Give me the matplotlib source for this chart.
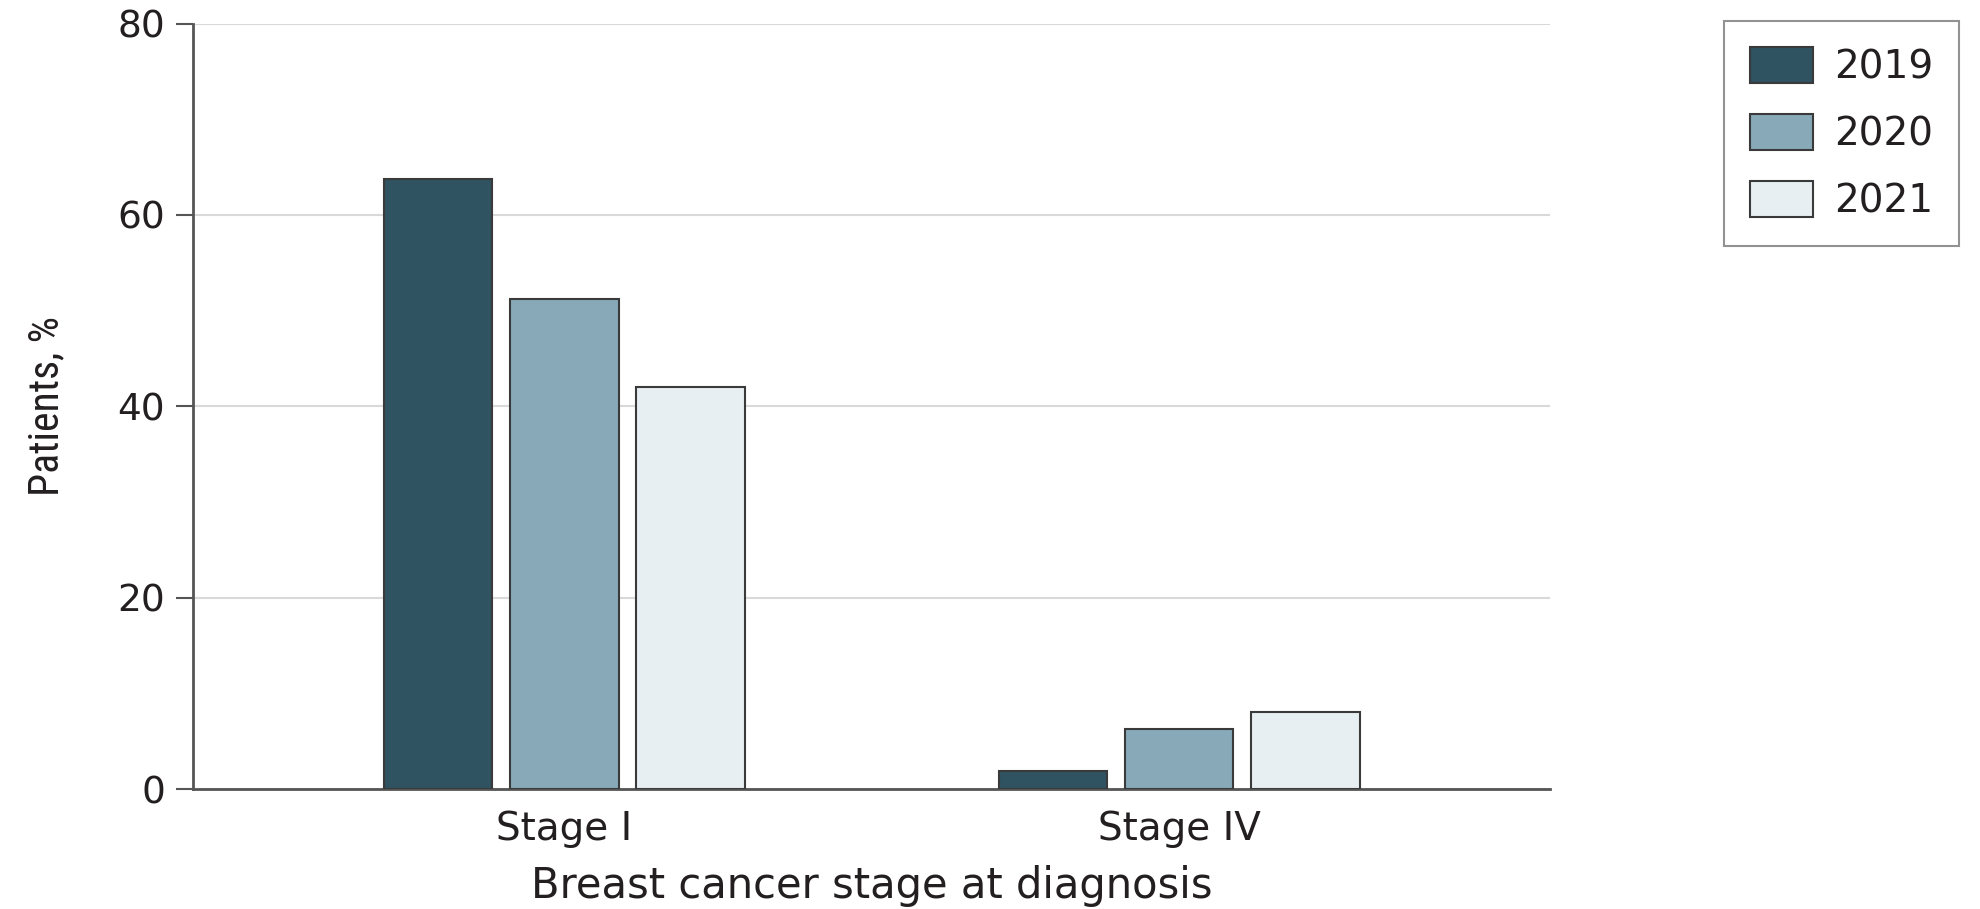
import numpy as np
import matplotlib
matplotlib.use("Agg")
import matplotlib.pyplot as plt
from matplotlib.patches import Patch
from matplotlib import font_manager

# ===== Data =====
stages = ["Stage I", "Stage IV"]
years = ["2019", "2020", "2021"]
pct_2019 = [63.8, 1.9]
pct_2020 = [51.2, 6.3]
pct_2021 = [42.0, 8.1]
y_ticks = [0, 20, 40, 60, 80]

# ===== Style =====
colors = ["#2F5361", "#87A9B8", "#E8EFF2"]
edge = "#3a3a3a"
text_col = "#231f20"
plt.rcParams["font.family"] = ["DejaVu Sans"]

# condensed font for the y label if one is installed
names = {f.name for f in font_manager.fontManager.ttflist}
narrow = None
for cand in ["Roboto Condensed", "Liberation Sans Narrow", "Open Sans Condensed"]:
    if cand in names:
        narrow = cand
        break

fig = plt.figure(figsize=(19.8, 9.09), dpi=100)
ax = fig.add_axes([0.0975, 0.132, 0.6855, 0.842])

group_x = np.array([0.0, 4.87])
step = 1.0
width = 0.86
series = [pct_2019, pct_2020, pct_2021]
for i, vals in enumerate(series):
    ax.bar(group_x + (i - 1) * step, vals, width=width, color=colors[i],
           edgecolor=edge, linewidth=1.5, zorder=3)

ax.set_xlim(-2.94, 7.81)
ax.set_ylim(0, 80)
ax.set_yticks(y_ticks)
ax.set_xticks(group_x)
ax.set_xticklabels(stages)

ax.grid(axis="y", color="#d9d9d9", linewidth=1.5, zorder=0)
for s in ["top", "right"]:
    ax.spines[s].set_visible(False)
ax.spines["left"].set_color("#555555")
ax.spines["left"].set_linewidth(2)
ax.spines["bottom"].set_color("#555555")
ax.spines["bottom"].set_linewidth(2)

ax.tick_params(axis="y", length=12, width=1.5, color="#555555",
               labelsize=27, labelcolor=text_col, pad=8)
ax.tick_params(axis="x", length=0, labelsize=28, labelcolor=text_col, pad=15)

ax.set_xlabel("Breast cancer stage at diagnosis", fontsize=30, color=text_col,
              labelpad=12)
if narrow:
    ax.set_ylabel("Patients, %", fontsize=30, color=text_col, labelpad=36,
                  family=narrow)
else:
    ax.set_ylabel("Patients, %", fontsize=23, color=text_col, labelpad=40)

handles = [Patch(facecolor=c, edgecolor=edge, linewidth=1.5) for c in colors]
leg = fig.legend(handles, years, loc="upper left", bbox_to_anchor=(0.8707, 0.977),
                 borderaxespad=0, fontsize=28, frameon=True, fancybox=False,
                 edgecolor="#777777", handlelength=1.62, handleheight=1.07,
                 handletextpad=0.55, labelspacing=0.71, borderpad=0.66,
                 labelcolor=text_col)
leg.get_frame().set_linewidth(1.5)

fig.savefig("out.png", dpi=100)
